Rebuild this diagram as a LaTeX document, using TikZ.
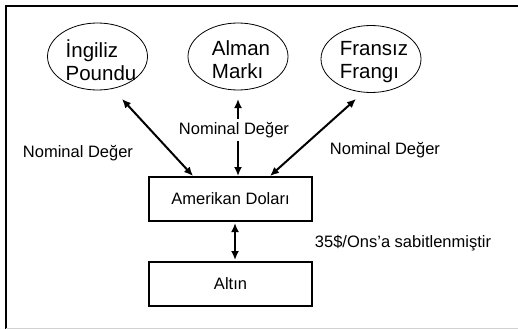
\documentclass[tikz,border=0pt]{standalone}
\usepackage{fontspec}
\setmainfont{Liberation Sans}
\usetikzlibrary{shapes.geometric,arrows.meta}
\begin{document}
\begin{tikzpicture}[x=1pt,y=-1pt,
  oval/.style={draw, ellipse, line width=0.8pt, minimum width=100pt, minimum height=67pt, inner sep=0pt},
  ovaltext/.style={align=left, inner sep=0pt, font=\fontsize{20.5}{23}\selectfont},
  box/.style={draw, line width=1.4pt, minimum width=163pt, minimum height=44pt, inner sep=0pt, font=\fontsize{16.5}{19}\selectfont},
  lbl/.style={inner sep=1pt, font=\fontsize{16.5}{19}\selectfont},
  link/.style={line width=2pt, {Latex[length=9pt,width=8pt]}-{Latex[length=9pt,width=8pt]}}]
\useasboundingbox (0,0) rectangle (518,329);
\draw[line width=1.5pt] (6,329) -- (6,6) -- (518,6);
\draw[line width=1pt, gray!35] (6,328) -- (518,328);
% ellipses
\node[oval] (gbp) at (97.5,56.5) {};
\node[ovaltext] (gbpt) at (101,60) {İngiliz\\Poundu};
\node[oval] (dem) at (238,56.5) {};
\node[ovaltext] (demt) at (241,60) {Alman\\Markı};
\node[oval] (frf) at (371,59) {};
\node[ovaltext] (frft) at (374,62) {Fransız\\Frangı};
% boxes
\node[box] (usd) at (230.5,199) {Amerikan Doları};
\node[box] (gold) at (230.5,284) {Altın};
% coordinates for arrow ends
\coordinate (a1) at (122,99);
\coordinate (a2) at (193,176);
\coordinate (b1) at (238,99);
\coordinate (b2) at (238,176);
\coordinate (c1) at (356,99);
\coordinate (c2) at (270,176);
\coordinate (d1) at (235,223);
\coordinate (d2) at (235,260);
\draw[link] (a1) -- (a2);
\draw[link] (b1) -- (b2);
\draw[link] (c1) -- (c2);
\draw[link] (d1) -- (d2);
% labels
\node[lbl] (l1) at (78,153) {Nominal Değer};
\node[lbl, fill=white, inner sep=3pt] (l2) at (234,130) {Nominal Değer};
\node[lbl] (l3) at (385,150) {Nominal Değer};
\node[lbl] (l4) at (403,243) {35\$/Ons’a sabitlenmiştir};
\end{tikzpicture}
\end{document}
